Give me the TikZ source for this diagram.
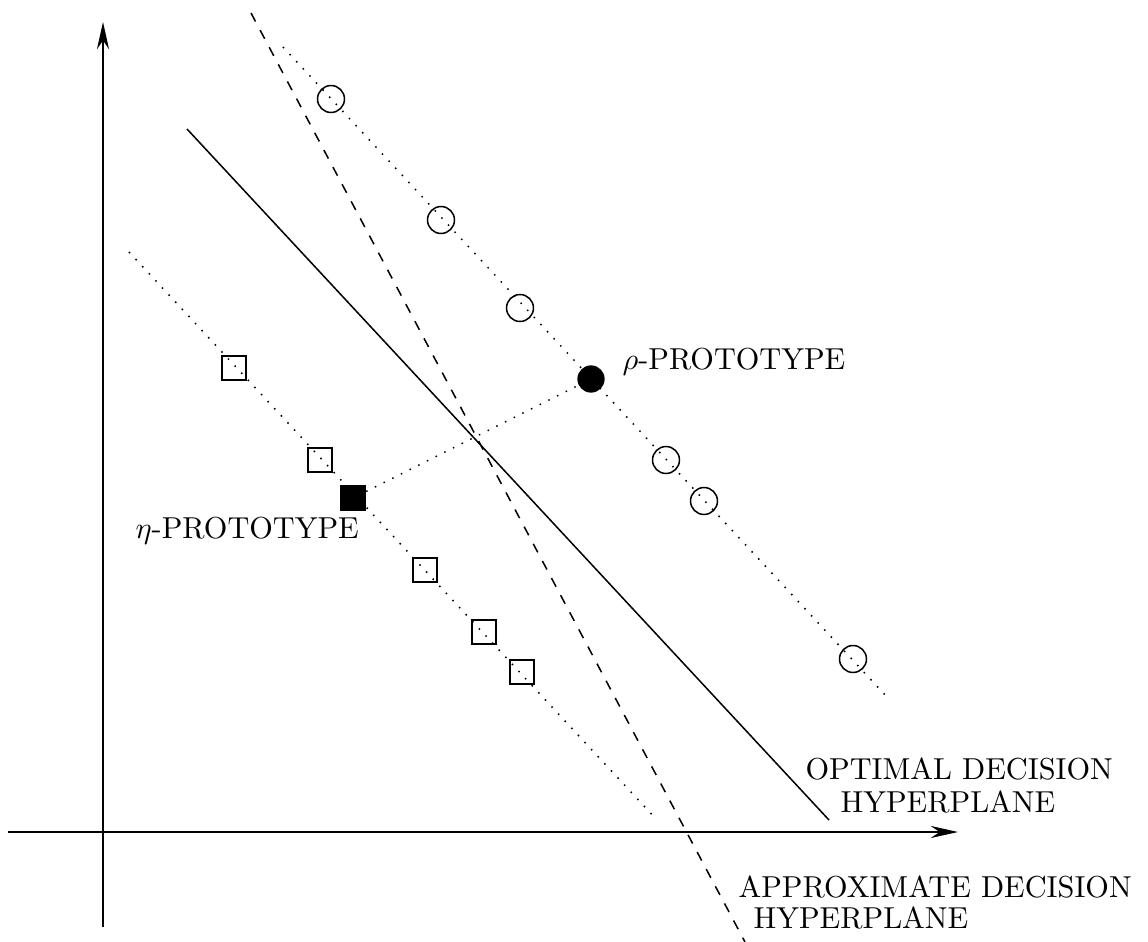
\documentclass[tikz,border=0pt]{standalone}
\usetikzlibrary{arrows.meta}
\begin{document}
\begin{tikzpicture}[x=0.33pt,y=-0.33pt,
  axis/.style={line width=0.7pt,-{Stealth[length=9pt,width=4pt]}},
  guide/.style={line width=0.5pt,dash pattern=on 0.5pt off 2.7pt},
  optimal/.style={line width=0.5pt},
  approx/.style={line width=0.5pt,dash pattern=on 3.2pt off 3.2pt},
  sample/.style={circle,draw,line width=0.5pt,inner sep=0pt,minimum size=8.9pt},
  protoc/.style={circle,fill=black,inner sep=0pt,minimum size=9pt},
  samplesq/.style={rectangle,draw,line width=0.5pt,inner sep=0pt,minimum size=7.9pt},
  protosq/.style={rectangle,fill=black,inner sep=0pt,minimum size=8.3pt},
  lbl/.style={anchor=base west,inner sep=0pt,font=\normalsize}
]
\useasboundingbox (0,0) rectangle (1148,942);

% axes
\coordinate (yb) at (103,927);
\coordinate (yt) at (103,22);
\coordinate (xl) at (8,832);
\coordinate (xr) at (958,832);
\draw[axis] (yb) -- (yt);
\draw[axis] (xl) -- (xr);

% decision hyperplanes
\coordinate (oa) at (187,129);
\coordinate (ob) at (829,820);
\draw[optimal] (oa) -- (ob);
\coordinate (da) at (251,13);
\coordinate (db) at (745,942);
\draw[approx] (da) -- (db);

% class rows (dotted guide lines)
\coordinate (ua) at (283,47);
\coordinate (ub) at (887,697);
\draw[guide] (ua) -- (ub);
\coordinate (la) at (129,252);
\coordinate (lb) at (657,820);
\draw[guide] (la) -- (lb);

% circle class
\node[sample] (c1) at (331,99) {};
\node[sample] (c2) at (441,220) {};
\node[sample] (c3) at (520,308) {};
\node[protoc] (rho) at (591,379) {};
\node[sample] (c4) at (666,460) {};
\node[sample] (c5) at (704,501) {};
\node[sample] (c6) at (853,659) {};

% square class
\node[samplesq] (s1) at (234,368) {};
\node[samplesq] (s2) at (320,460) {};
\node[protosq] (eta) at (353,498) {};
\node[samplesq] (s3) at (425,570) {};
\node[samplesq] (s4) at (484,632) {};
\node[samplesq] (s5) at (522,672) {};

% link between the two prototypes
\draw[guide] (eta) -- (rho);

% labels
\node[lbl] (lrho) at (622,369) {$\rho$-PROTOTYPE};
\node[lbl] (leta) at (135,538) {$\eta$-PROTOTYPE};
\node[lbl] (lopt1) at (805,779) {OPTIMAL DECISION};
\node[lbl] (lopt2) at (840,812) {HYPERPLANE};
\node[lbl] (lapp1) at (738,897) {APPROXIMATE DECISION};
\node[lbl] (lapp2) at (753,928) {HYPERPLANE};
\end{tikzpicture}
\end{document}
